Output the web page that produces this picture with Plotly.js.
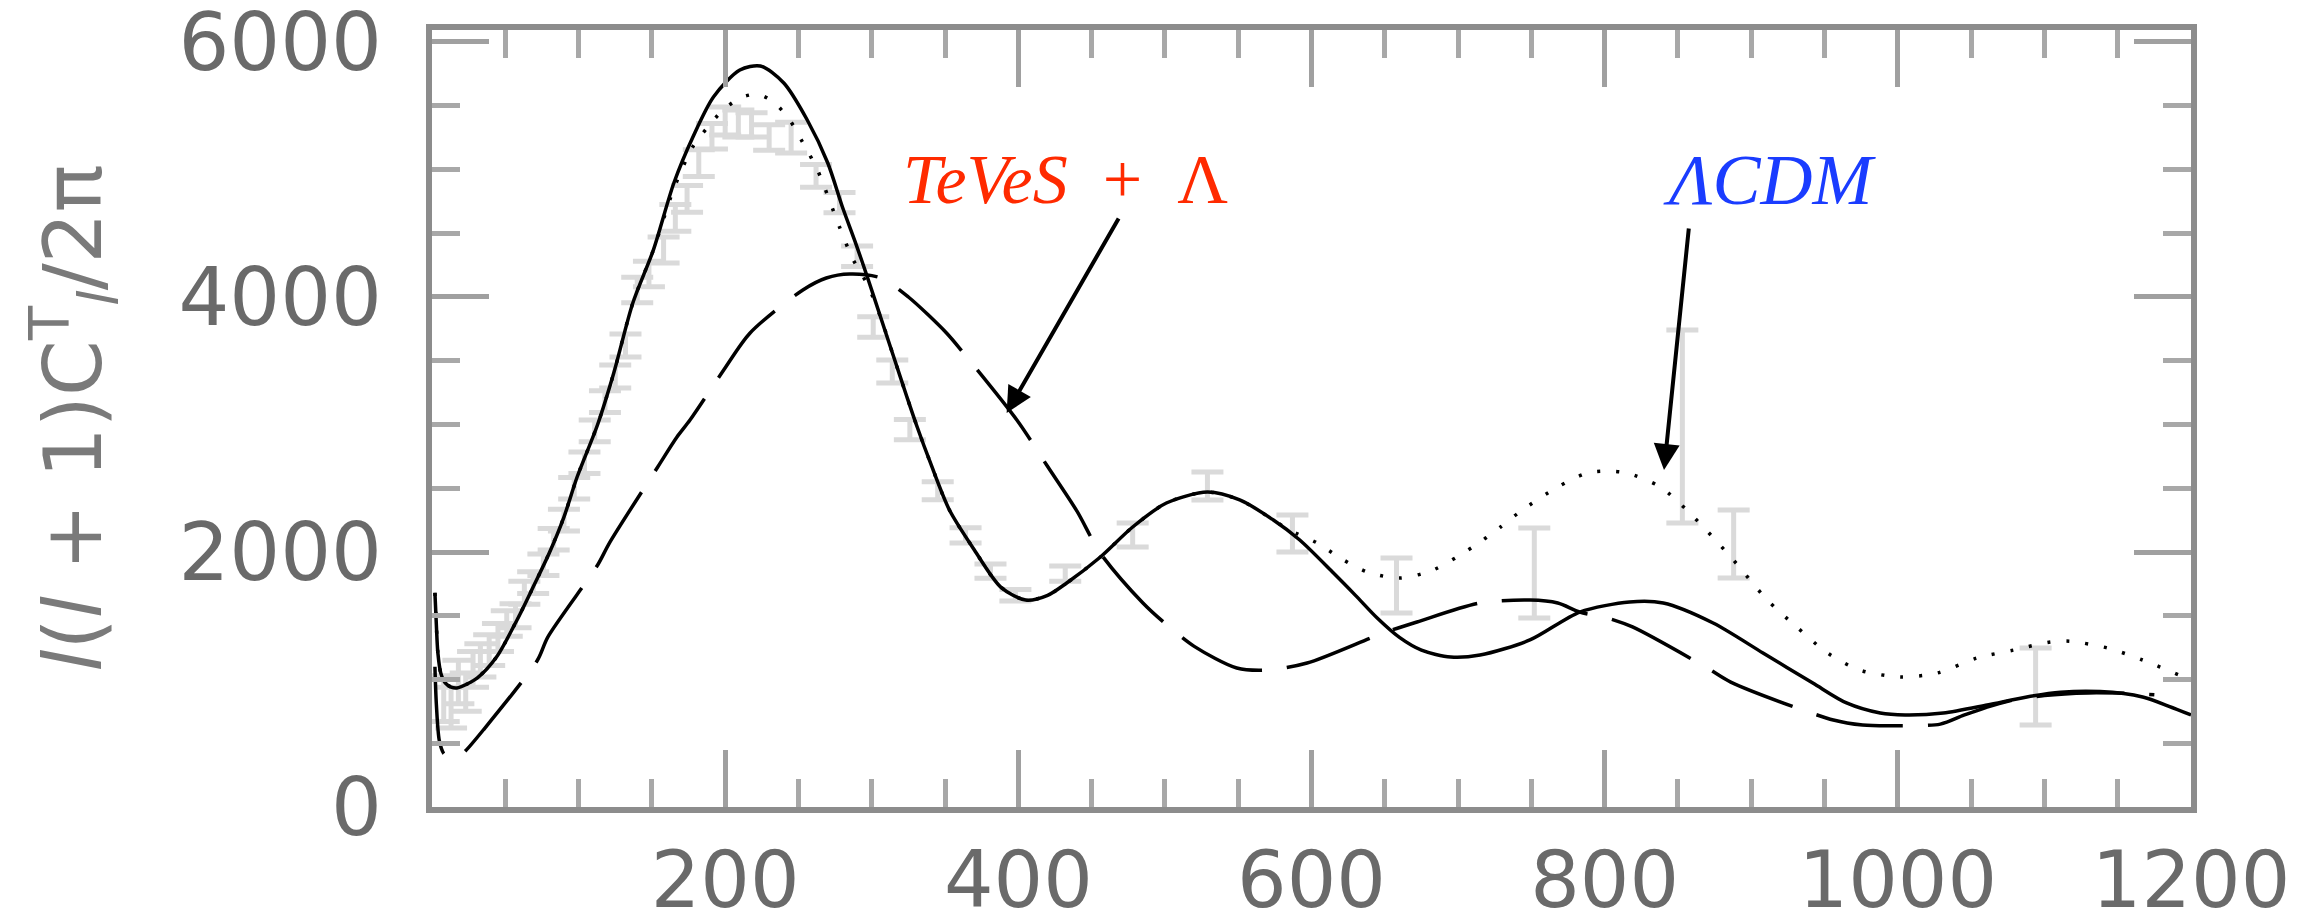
<!DOCTYPE html>
<html>
<head>
<meta charset="utf-8">
<script src="https://cdn.plot.ly/plotly-3.0.1.min.js"></script>
<style>html,body{margin:0;padding:0;background:#fff;}#chart{width:2318px;height:921px;}</style>
</head>
<body>
<div id="chart"></div>
<script>
// ---- data ----
const ellSolid = [2,3,4,6,9,13,17,24,31,44,58,69,80,90,99,113,124,137,151,165,178,192,210,224,240,256,270,280,289,297,306,315,324,331,340,353,370,388,405,420,433,456,478,501,529,551,574,592,615,630,645,660,675,695,715,749,783,817,840,874,908,942,965,988,1005,1031,1061,1088,1111,1138,1167,1185,1200];
const clSolid  = [1680,1420,1210,1050,973,940,933,965,1012,1176,1467,1725,1992,2274,2588,3000,3404,3953,4368,4894,5255,5569,5780,5812,5678,5388,5051,4706,4423,4157,3843,3529,3216,2980,2700,2329,2016,1725,1623,1660,1757,1961,2196,2384,2470,2408,2251,2094,1835,1660,1480,1330,1230,1176,1192,1310,1529,1608,1600,1443,1208,972,816,737,722,737,800,863,900,905,863,790,722];

const ellLCDM = [2,3,4,6,9,13,17,24,31,44,58,69,80,90,99,113,124,137,151,165,178,188,198,210,222,233,244,253,263,278,287,297,306,315,324,331,340,353,370,388,405,420,433,456,478,501,529,551,574,585,604,620,638,660,683,710,729,742,768,788,802,815,838,858,886,911,931,952,974,1002,1027,1054,1079,1104,1117,1143,1167,1192,1200];
const clLCDM  = [1680,1420,1210,1050,973,940,933,965,1012,1176,1467,1725,1992,2274,2588,3000,3404,3953,4368,4850,5180,5330,5460,5560,5590,5530,5388,5210,4996,4549,4300,4100,3843,3529,3216,2980,2700,2329,2016,1725,1623,1660,1757,1961,2196,2384,2470,2408,2251,2172,2070,1950,1843,1796,1859,2039,2196,2314,2510,2620,2635,2620,2510,2306,1961,1623,1412,1208,1074,1020,1051,1169,1231,1294,1300,1247,1153,1035,1000];

const ellTeVeS = [2,3,5,8,12,17,22,35,72,79,113,121,154,167,176,199,217,253,269,285,306,325,351,362,399,420,440,456,485,499,520,549,570,597,649,672,715,749,768,783,802,819,870,886,956,976,1000,1029,1045,1060,1075,1100,1130,1160,1175];
const clTeVeS  = [1100,800,520,420,390,385,430,604,1153,1333,1898,2070,2667,2900,3035,3427,3718,4055,4149,4180,4150,4000,3718,3569,3035,2670,2320,1990,1600,1451,1260,1090,1074,1129,1365,1451,1600,1623,1600,1529,1482,1412,1090,980,682,643,638,650,720,780,830,875,895,890,880];

const dataEll = [8,13,18,23,28,33,39,45,51,57,63,69,76,83,90,97,104,111,118,125,132,140,148,158,166,174,182,191,200,209,218,230,245,262,278,290,301,314,326,345,364,381,398,432,478,529,587,658,752,853,888,1094];
const dataCl  = [850,780,980,900,1080,1150,1230,1330,1440,1500,1680,1760,1900,2100,2250,2500,2700,2950,3180,3376,3620,4055,4180,4368,4620,4770,5050,5260,5380,5360,5350,5250,5250,4950,4740,4320,3765,3415,2960,2480,2130,1850,1660,1830,2133,2518,2145,1737,1835,2984,2063,945];
const dataErr = [180,160,170,150,140,130,120,110,100,95,90,85,85,85,85,85,85,85,85,90,90,100,100,102,105,105,105,100,110,106,95,100,120,90,80,80,80,90,80,70,60,55,45,60,94,110,145,215,353,757,267,302];

const xTickVals = [200,400,600,800,1000,1200];
const xTickText = ['200','400','600','800','1000','1200'];
const yTickVals = [0,2000,4000,6000];
const yTickText = ['0','2000','4000','6000'];

// ---- traces ----
const traces = [
  {x: dataEll, y: dataCl, type: 'scatter', mode: 'markers',
   marker: {size: 1, color: 'rgba(0,0,0,0)'},
   error_y: {type: 'data', array: dataErr, visible: true, color: '#dadada', thickness: 5, width: 16},
   hoverinfo: 'skip', showlegend: false},
  {x: ellTeVeS, y: clTeVeS, type: 'scatter', mode: 'lines',
   line: {color: '#000', width: 3.5, dash: '88px,25px', shape: 'spline', smoothing: 0.8}, showlegend: false},
  {x: ellSolid, y: clSolid, type: 'scatter', mode: 'lines',
   line: {color: '#000', width: 3.5, shape: 'spline', smoothing: 0.8}, showlegend: false},
  {x: ellLCDM, y: clLCDM, type: 'scatter', mode: 'lines',
   line: {color: '#000', width: 3.5, dash: '3px,16px', shape: 'spline', smoothing: 0.8}, showlegend: false}
];

const layout = {
  width: 2318, height: 921,
  margin: {l: 432, r: 127, t: 30, b: 114, pad: 0},
  paper_bgcolor: '#fff', plot_bgcolor: '#fff',
  showlegend: false,
  xaxis: {
    range: [0, 1200], showgrid: false, zeroline: false,
    showline: true, linecolor: '#8c8c8c', linewidth: 6, mirror: 'allticks',
    ticks: 'inside', ticklen: 57, tickwidth: 5, tickcolor: '#a0a0a0',
    tickmode: 'array', tickvals: xTickVals, ticktext: xTickText,
    tickfont: {family: 'DejaVu Sans, sans-serif', size: 78, color: '#6a6a6a'},
    ticklabelstandoff: 0, ticklabeloverflow: 'allow',
    minor: {dtick: 50, tick0: 0, ticks: 'inside', ticklen: 28, tickwidth: 5, tickcolor: '#a8a8a8', showgrid: false}
  },
  yaxis: {
    range: [0, 6094], showgrid: false, zeroline: false,
    showline: true, linecolor: '#8c8c8c', linewidth: 6, mirror: 'allticks',
    ticks: 'inside', ticklen: 57, tickwidth: 5, tickcolor: '#a0a0a0',
    tickmode: 'array', tickvals: yTickVals, ticktext: yTickText,
    tickfont: {family: 'DejaVu Sans, sans-serif', size: 80, color: '#6a6a6a'},
    ticklabelstandoff: 28, ticklabeloverflow: 'allow',
    minor: {dtick: 500, tick0: 0, ticks: 'inside', ticklen: 28, tickwidth: 5, tickcolor: '#a8a8a8', showgrid: false}
  },
  annotations: [
    {xref: 'paper', yref: 'paper', x: -0.204, y: 0.5, xanchor: 'center', yanchor: 'middle',
     textangle: -90, showarrow: false,
     text: '<i>l</i>(<i>l</i> + 1)C<sup>T</sup><sub><i>l</i></sub>/2π',
     font: {family: 'DejaVu Sans, sans-serif', size: 80, color: '#7a7a7a'}},
    {xref: 'x', yref: 'y', x: 432.5, y: 4918, showarrow: false,
     text: '<i>TeVeS</i>\u2002+\u2002Λ',
     font: {family: 'Liberation Serif, serif', size: 70, color: '#ff2a00'}},
    {xref: 'x', yref: 'y', x: 912.8, y: 4918, showarrow: false,
     text: '<i>ΛCDM</i>',
     font: {family: 'Liberation Serif, serif', size: 72, color: '#1a3cff'}},
    {xref: 'x', yref: 'y', x: 392, y: 3090, axref: 'x', ayref: 'y', ax: 469, ay: 4627,
     text: '', showarrow: true, arrowhead: 2, arrowsize: 1.3, arrowwidth: 4, arrowcolor: '#000', standoff: 0, startstandoff: 0},
    {xref: 'x', yref: 'y', x: 840.5, y: 2643, axref: 'x', ayref: 'y', ax: 857.5, ay: 4549,
     text: '', showarrow: true, arrowhead: 2, arrowsize: 1.3, arrowwidth: 4, arrowcolor: '#000', standoff: 0, startstandoff: 0}
  ]
};

Plotly.newPlot('chart', traces, layout, {displayModeBar: false, staticPlot: true});
</script>
</body>
</html>
